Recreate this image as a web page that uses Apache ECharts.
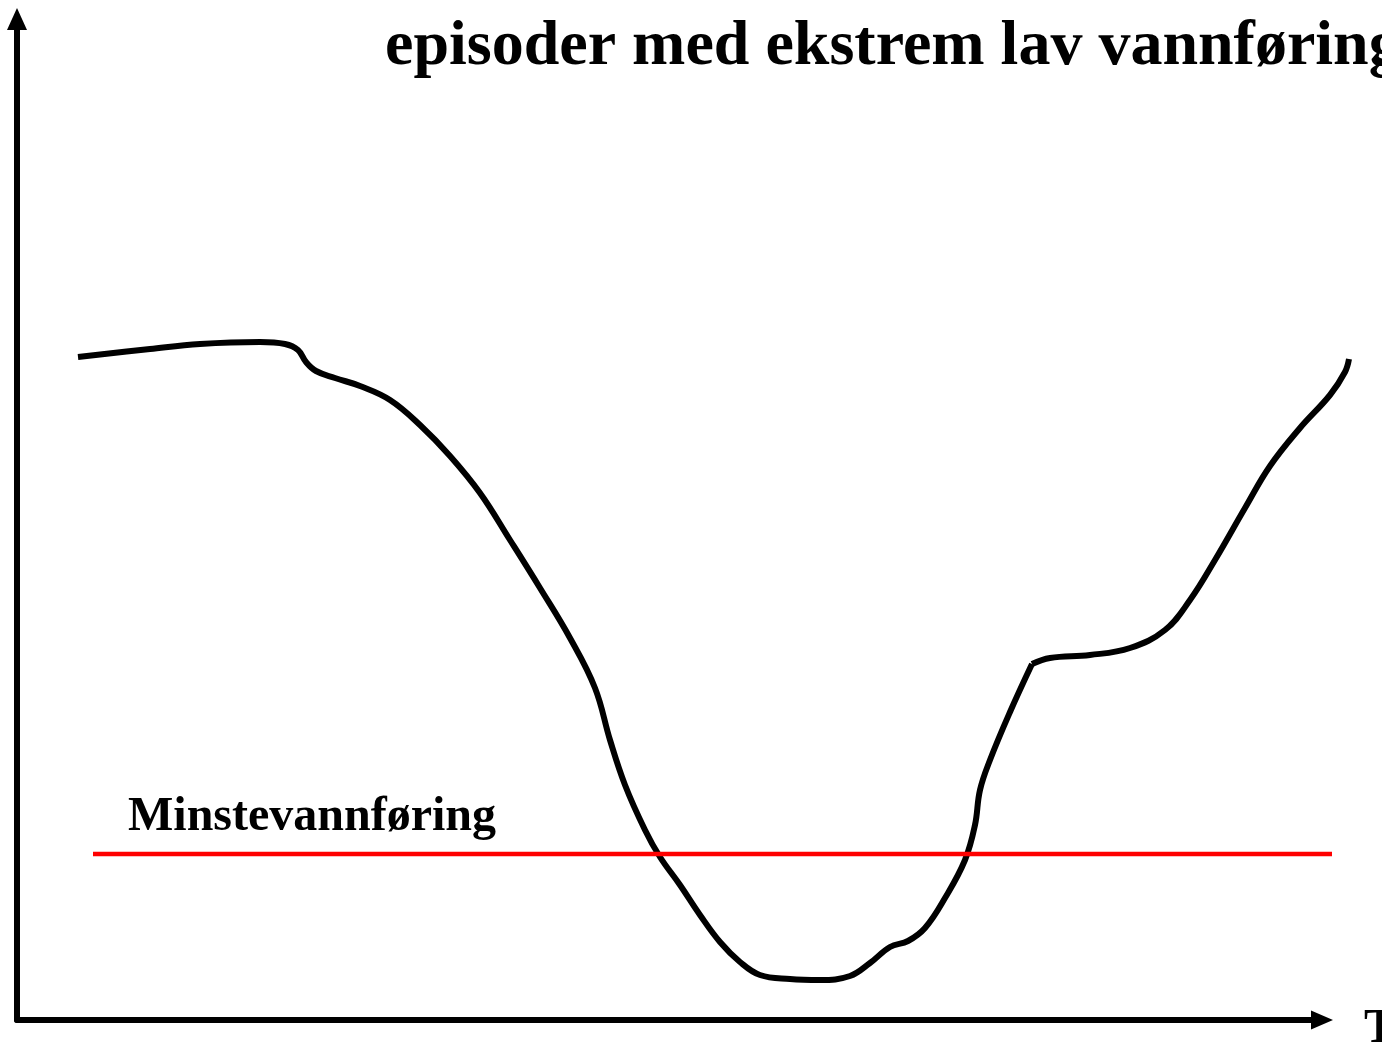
<!DOCTYPE html>
<html>
<head>
<meta charset="utf-8">
<style>html,body{margin:0;padding:0;background:#fff;}#chart{width:1382px;height:1042px;}</style>
<script src="https://cdn.jsdelivr.net/npm/echarts@6/dist/echarts.min.js"></script>
</head>
<body>
<div id="chart"></div>
<script>
// Time (arbitrary units) and flow (arbitrary units)
const fallTime = [61,133,183,243,268,281,289,299,318,343,373,403,433,463,493,523,553,578,593,608,628,643,663,683,703,723,743,773,803,833,853,873,891,908,928,948,958,963,973,993,1015];
const fallFlow = [663,671,676,678,676,670,658,649,642,634,620,595,564,527,480,432,382,332,280,235,190,163,135,105,78,58,45,41,40,44,57,73,79,92,122,160,195,230,260,308,356];
const riseTime = [1015,1033,1073,1113,1148,1173,1198,1228,1253,1283,1313,1328,1332];
const riseFlow = [356,362,365,372,390,420,460,512,554,592,625,648,661];
const minFlowTime = [76,1315];
const minFlowValue = [166,166];
const titleText = 'episoder med ekstrem lav vannføring';
const minFlowLabel = 'Minstevannføring';
const xName = 'Tid';

const zip = (a,b) => a.map((v,i)=>[v,b[i]]);
const serif = '"Liberation Serif", "Times New Roman", serif';
const hiddenAxis = {show:false};
const chart = echarts.init(document.getElementById('chart'));
chart.setOption({
  animation:false,
  backgroundColor:'#fff',
  grid:[
    {left:17,right:60,top:19,bottom:22,containLabel:false},
    {left:17,right:30,top:19,bottom:22,containLabel:false}
  ],
  xAxis:[
    {type:'value',gridIndex:0,min:0,max:1305,
      axisLine:{show:true,onZero:false,lineStyle:{color:'#000',width:6},symbol:['none','triangle'],symbolSize:[19,22]},
      axisTick:{show:false},axisLabel:{show:false},splitLine:{show:false}},
    {type:'value',gridIndex:1,min:0,max:1335,axisLine:{show:false},axisTick:{show:false},axisLabel:{show:false},splitLine:{show:false}}
  ],
  yAxis:[
    {type:'value',gridIndex:0,min:0,max:1001,
      axisLine:{show:true,onZero:false,lineStyle:{color:'#000',width:6},symbol:['none','triangle'],symbolSize:[20,22]},
      axisTick:{show:false},axisLabel:{show:false},splitLine:{show:false}},
    {type:'value',gridIndex:1,min:0,max:1001,axisLine:{show:false},axisTick:{show:false},axisLabel:{show:false},splitLine:{show:false}}
  ],
  series:[
    {type:'line',xAxisIndex:1,yAxisIndex:1,data:zip(fallTime,fallFlow),smooth:0.4,showSymbol:false,
      lineStyle:{color:'#000',width:6,cap:'butt',join:'round'}},
    {type:'line',xAxisIndex:1,yAxisIndex:1,data:zip(riseTime,riseFlow),smooth:0.4,showSymbol:false,
      lineStyle:{color:'#000',width:6,cap:'butt',join:'round'}},
    {type:'line',xAxisIndex:1,yAxisIndex:1,data:zip(minFlowTime,minFlowValue),showSymbol:false,
      lineStyle:{color:'#ff0000',width:4.5}}
  ],
  graphic:[
    {type:'text',left:385,top:15,style:{text:titleText,font:'bold 64px ' + serif,fill:'#000'}},
    {type:'text',left:128,top:794,style:{text:minFlowLabel,font:'bold 48px ' + serif,fill:'#000'}},
    {type:'text',left:1364,top:1006,style:{text:xName,font:'bold 48px ' + serif,fill:'#000'}}
  ]
});
</script>
</body>
</html>
